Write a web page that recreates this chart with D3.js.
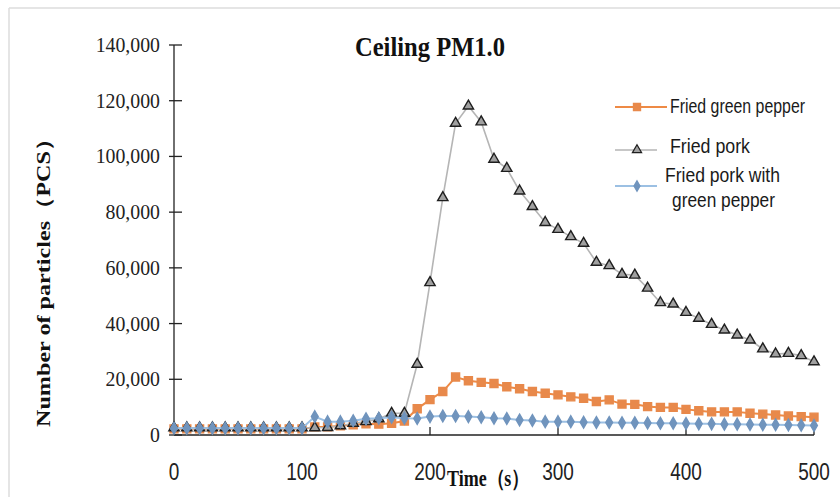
<!DOCTYPE html>
<html>
<head>
<meta charset="utf-8">
<script src="https://cdn.jsdelivr.net/npm/d3@7"></script>
<style>
  body { margin: 0; background: #fff; }
  svg { display: block; }
</style>
</head>
<body>
<div id="chart"></div>
<script>
// time in seconds, sampled every 10 s
var times = [0, 10, 20, 30, 40, 50, 60, 70, 80, 90, 100,
  110, 120, 130, 140, 150, 160, 170, 180, 190, 200,
  210, 220, 230, 240, 250, 260, 270, 280, 290, 300,
  310, 320, 330, 340, 350, 360, 370, 380, 390, 400,
  410, 420, 430, 440, 450, 460, 470, 480, 490, 500];

var greenPepper = [2200, 2200, 2200, 2200, 2200, 2200, 2200, 2200, 2200, 2200, 2200,
  2900, 2900, 3300, 3700, 4000, 3900, 4200, 5000, 9400, 12700,
  15600, 20800, 19500, 18900, 18500, 17300, 16600, 15600, 15000, 14400,
  13700, 13200, 12000, 12600, 11100, 11000, 10200, 9900, 9900, 9200,
  8700, 8300, 8300, 8300, 7800, 7500, 7200, 6800, 6600, 6400];

var pork = [2600, 2600, 2600, 2600, 2600, 2600, 2600, 2600, 2600, 2600, 2600,
  2600, 2700, 3300, 4200, 4800, 5800, 7800, 7800, 25400, 54700,
  85200, 111900, 118100, 112400, 99000, 95700, 87600, 82000, 76300, 73800,
  71200, 68800, 62000, 60800, 57700, 57400, 52700, 47500, 47000, 44000,
  41900, 39700, 37700, 35900, 34100, 30900, 29100, 29300, 28500, 26300];

var porkPepper = [2400, 2400, 2400, 2400, 2400, 2400, 2400, 2400, 2400, 2400, 2400,
  6600, 4800, 4800, 5100, 5800, 6000, 6400, 6000, 5900, 6600,
  6800, 6800, 6600, 6400, 6000, 5900, 5400, 5200, 4800, 4800,
  4800, 4600, 4500, 4500, 4400, 4400, 4300, 4200, 4200, 4100,
  4000, 4000, 3900, 3900, 3800, 3700, 3700, 3600, 3500, 3400];

var xTicks = [0, 100, 200, 300, 400, 500];
var yTicks = [0, 20000, 40000, 60000, 80000, 100000, 120000, 140000];

var W = 840, H = 497;
var svg = d3.select("#chart").append("svg").attr("width", W).attr("height", H);

// squeeze text horizontally (the source picture is stretched vertically)
function squeeze(sel, k) {
  sel.each(function() {
    var len = this.getComputedTextLength();
    d3.select(this).attr("textLength", len * k).attr("lengthAdjust", "spacingAndGlyphs");
  });
}

// faint frame at top and left
svg.append("line").attr("x1", 9).attr("y1", 8).attr("x2", W).attr("y2", 8)
  .style("stroke", "#dcdcdc").style("stroke-width", 1.5);
svg.append("line").attr("x1", 9).attr("y1", 8).attr("x2", 9).attr("y2", H)
  .style("stroke", "#dcdcdc").style("stroke-width", 1.5);

var x = d3.scaleLinear().domain([0, 500]).range([174, 814]);
var y = d3.scaleLinear().domain([0, 140000]).range([435, 45]);

// axes
var axisG = svg.append("g").style("stroke", "#222").style("stroke-width", 1.3);
axisG.append("line").attr("x1", x(0)).attr("x2", x(0)).attr("y1", y(140000)).attr("y2", y(0));
axisG.append("line").attr("x1", x(0)).attr("x2", x(500)).attr("y1", y(0)).attr("y2", y(0));
axisG.selectAll(".yt").data(yTicks).enter().append("line")
  .attr("x1", x(0) - 5).attr("x2", x(0) + 8)
  .attr("y1", function(d) { return y(d); }).attr("y2", function(d) { return y(d); });
axisG.selectAll(".xt").data(xTicks.slice(1)).enter().append("line")
  .attr("x1", function(d) { return x(d); }).attr("x2", function(d) { return x(d); })
  .attr("y1", y(0)).attr("y2", y(0) - 8);

var fmt = d3.format(",");
svg.selectAll(".ylab").data(yTicks).enter().append("text")
  .attr("x", 160).attr("y", function(d) { return y(d) + 7; })
  .attr("text-anchor", "end")
  .style("font-family", "'Liberation Serif', 'Times New Roman', serif")
  .style("font-size", "22px").style("fill", "#222")
  .text(function(d) { return fmt(d); })
  .call(squeeze, 0.9);

// x tick labels: narrow font, stretched vertically
svg.selectAll(".xlab").data(xTicks).enter().append("text")
  .attr("transform", function(d) { return "translate(" + x(d) + ",480) scale(1,1.25)"; })
  .attr("text-anchor", "middle")
  .style("font-family", "'Liberation Sans', Arial, sans-serif")
  .style("font-size", "19px").style("fill", "#222")
  .text(function(d) { return d; });

// titles
svg.append("text").attr("x", 430).attr("y", 56).attr("text-anchor", "middle")
  .style("font-family", "'Liberation Serif', 'Times New Roman', serif")
  .style("font-size", "27px").style("font-weight", "bold").style("fill", "#111")
  .text("Ceiling PM1.0")
  .attr("textLength", 150).attr("lengthAdjust", "spacingAndGlyphs");

svg.append("text").attr("transform", "translate(447,486) scale(1,1.25)")
  .style("font-family", "'Liberation Serif', 'Times New Roman', serif")
  .style("font-size", "18px").style("font-weight", "bold").style("fill", "#111")
  .text("Time（s）");

svg.append("text")
  .attr("transform", "translate(50,277) rotate(-90)")
  .attr("text-anchor", "middle")
  .style("font-family", "'Liberation Serif', 'Times New Roman', serif")
  .style("font-size", "19px").style("font-weight", "bold").style("fill", "#111")
  .text("Number of particles（PCS）")
  .attr("textLength", 300).attr("lengthAdjust", "spacingAndGlyphs");

// series
var series = [
  { name: "Fried green pepper", values: greenPepper, line: "#ee8a45", lw: 2,
    sym: d3.symbolSquare, size: 64, fill: "#e8894b", stroke: "#e8894b" },
  { name: "Fried pork", values: pork, line: "#b5b5b5", lw: 1.6,
    sym: d3.symbolTriangle, size: 46, fill: "#a0a0a0", stroke: "#1e1e1e" },
  { name: "Fried pork with green pepper", values: porkPepper, line: "#9cc0e3", lw: 2,
    sym: d3.symbolDiamond, size: 40, fill: "#7094bd", stroke: "#7094bd" }
];

var line = d3.line()
  .x(function(d, i) { return x(times[i]); })
  .y(function(d) { return y(d); });

series.forEach(function(s) {
  var g = svg.append("g");
  g.append("path").datum(s.values).attr("d", line)
    .style("fill", "none").style("stroke", s.line).style("stroke-width", s.lw);
  g.selectAll("path.m").data(s.values).enter().append("path")
    .attr("class", "m")
    .attr("transform", function(d, i) { return "translate(" + x(times[i]) + "," + y(d) + ")"; })
    .attr("d", d3.symbol().type(s.sym).size(s.size))
    .style("fill", s.fill).style("stroke", s.stroke).style("stroke-width", 1.4);
});

// legend
var legend = [
  { s: series[0], y: 107, labels: [{ t: "Fried green pepper", x: 670, y: 113, w: 135 }] },
  { s: series[1], y: 150, labels: [{ t: "Fried pork", x: 670, y: 153, w: 80 }] },
  { s: series[2], y: 186, labels: [{ t: "Fried pork with", x: 665, y: 182, w: 115 },
                                   { t: "green pepper", x: 672, y: 207, w: 103 }] }
];
legend.forEach(function(l, k) {
  var g = svg.append("g");
  g.append("line").attr("x1", 615).attr("x2", k === 0 ? 667 : 657)
    .attr("y1", l.y).attr("y2", l.y)
    .style("stroke", l.s.line).style("stroke-width", l.s.lw);
  g.append("path").attr("transform", "translate(637," + l.y + ")")
    .attr("d", d3.symbol().type(l.s.sym).size(l.s.size * 0.8))
    .style("fill", l.s.fill).style("stroke", l.s.stroke).style("stroke-width", 1.2);
  l.labels.forEach(function(t) {
    g.append("text").attr("x", t.x).attr("y", t.y)
      .style("font-family", "'Liberation Sans', Arial, sans-serif")
      .style("font-size", "20px").style("fill", "#1a1a1a")
      .text(t.t)
      .attr("textLength", t.w).attr("lengthAdjust", "spacingAndGlyphs");
  });
});
</script>
</body>
</html>
